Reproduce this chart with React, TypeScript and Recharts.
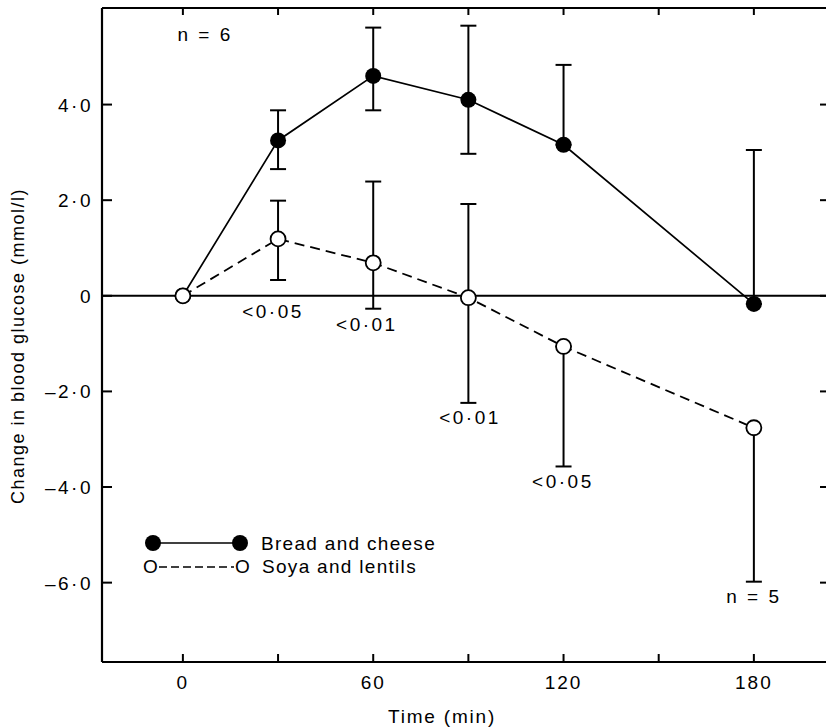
import React from "react";
import {
  ComposedChart,
  Line,
  Scatter,
  XAxis,
  YAxis,
  ErrorBar,
  ReferenceLine,
} from "recharts";

// Time after meal (min)
const times = [0, 30, 60, 90, 120, 180];

// Bread and cheese (filled circles)
const bread = [0, 3.25, 4.6, 4.1, 3.16, -0.17];
const breadErrDown = [0, 0.6, 0.72, 1.13, 0, 0];
const breadErrUp = [0, 0.63, 1.01, 1.55, 1.67, 3.22];

// Soya and lentils (open circles)
const soya = [0, 1.19, 0.69, -0.04, -1.06, -2.76];
const soyaErrDown = [0, 0.86, 0.96, 2.2, 2.51, 3.22];
const soyaErrUp = [0, 0.8, 1.7, 1.96, 0, 0];

// Axis ticks
const xTicks = [0, 30, 60, 90, 120, 150, 180];
const xLabelled = [0, 60, 120, 180];
const yTicks = [-6, -4, -2, 0, 2, 4];

// Text annotations (time, value, text)
const noteT = [28.4, 58, 90.5, 119.8, 180, 7];
const noteY = [-0.33, -0.61, -2.55, -3.89, -6.3, 5.46];
const noteText = ["<0·05", "<0·01", "<0·01", "<0·05", "n = 5", "n = 6"];

const FONT = "'Liberation Sans', Arial, Helvetica, sans-serif";
const X_DOMAIN: [number, number] = [-25.5, 204];
const Y_DOMAIN: [number, number] = [-7.66, 6.02];

const data = times.map((t, i) => ({
  t,
  bread: bread[i],
  breadErr: [breadErrDown[i], breadErrUp[i]],
  soya: soya[i],
  soyaErr: [soyaErrDown[i], soyaErrUp[i]],
}));

const notes = noteT.map((t, i) => ({ t, y: noteY[i], text: noteText[i] }));

const fmtY = (v: number) => {
  if (v === 0) return "0";
  const s = Math.abs(v).toFixed(1).replace(".", "·");
  return v < 0 ? "–" + s : s;
};

const BottomTick = ({ x, y, payload }: any) => (
  <g>
    <line x1={x} y1={y} x2={x} y2={y - 8} stroke="#000" strokeWidth={2} />
    {xLabelled.includes(payload.value) && (
      <text x={x} y={y + 27} textAnchor="middle" fontSize={19} letterSpacing={2} fill="#000" fontFamily={FONT}>
        {payload.value}
      </text>
    )}
  </g>
);

const TopTick = ({ x, y }: any) => (
  <line x1={x} y1={y} x2={x} y2={y + 7} stroke="#000" strokeWidth={2} />
);

const LeftTick = ({ x, y, payload }: any) => (
  <g>
    <line x1={x} y1={y} x2={x + 10} y2={y} stroke="#000" strokeWidth={2} />
    <text x={x - 9} y={y + 7} textAnchor="end" fontSize={19} letterSpacing={2.5} fill="#000" fontFamily={FONT}>
      {fmtY(payload.value)}
    </text>
  </g>
);

const RightTick = ({ x, y }: any) => (
  <line x1={x} y1={y} x2={x - 10} y2={y} stroke="#000" strokeWidth={2} />
);

const YLabel = ({ viewBox }: any) => {
  const cx = viewBox.x + 18;
  const cy = viewBox.y + viewBox.height / 2 + 11;
  return (
    <text x={cx} y={cy} transform={`rotate(-90 ${cx} ${cy})`} textAnchor="middle" dominantBaseline="central"
      fontSize={18} letterSpacing={1.5} fill="#000" fontFamily={FONT}>
      Change in blood glucose (mmol/l)
    </text>
  );
};

const XLabel = ({ viewBox }: any) => (
  <text x={viewBox.x + 340} y={viewBox.y + 61} textAnchor="middle" fontSize={19} letterSpacing={1.8}
    fill="#000" fontFamily={FONT}>
    Time (min)
  </text>
);

const NoteShape = ({ cx, cy, payload }: any) => (
  <text x={cx} y={cy} textAnchor="middle" dominantBaseline="central" fontSize={19} letterSpacing={2.5}
    fill="#000" fontFamily={FONT}>
    {payload.text}
  </text>
);

export default function App() {
  return (
    <div style={{ position: "absolute", left: 0, top: 0, width: 826, height: 727, overflow: "hidden", background: "#fff" }}>
      <ComposedChart width={840} height={727} data={data} margin={{ top: 0, right: 0, bottom: 0, left: 0 }}>
        <XAxis xAxisId="top" orientation="top" type="number" dataKey="t" domain={X_DOMAIN} ticks={xTicks}
          height={8} tickSize={0} tickMargin={0} tickLine={false} tick={<TopTick />}
          axisLine={{ stroke: "#000", strokeWidth: 2.2 }} allowDataOverflow />
        <XAxis type="number" dataKey="t" domain={X_DOMAIN} ticks={xTicks} height={65} tickSize={0} tickMargin={0}
          tickLine={false} tick={<BottomTick />} axisLine={{ stroke: "#000", strokeWidth: 2.2 }}
          label={<XLabel />} allowDataOverflow />
        <YAxis type="number" domain={Y_DOMAIN} ticks={yTicks} width={102} tickSize={0} tickMargin={0}
          tickLine={false} tick={<LeftTick />} axisLine={{ stroke: "#000", strokeWidth: 2.2 }}
          label={<YLabel />} allowDataOverflow />
        <YAxis yAxisId="right" orientation="right" type="number" domain={Y_DOMAIN} ticks={yTicks} width={10}
          tickSize={0} tickMargin={0} tickLine={false} tick={<RightTick />}
          axisLine={{ stroke: "#000", strokeWidth: 2 }} allowDataOverflow />

        <ReferenceLine y={0} stroke="#000" strokeWidth={2} />

        <Line dataKey="bread" stroke="#000" strokeWidth={1.7} isAnimationActive={false}
          dot={{ r: 8, fill: "#000", stroke: "#000", strokeWidth: 0 }} activeDot={false}>
          <ErrorBar dataKey="breadErr" direction="y" width={8} stroke="#000" strokeWidth={2} isAnimationActive={false} />
        </Line>
        <Line dataKey="soya" stroke="#000" strokeWidth={1.8} strokeDasharray="10 6" isAnimationActive={false}
          dot={{ r: 7.5, fill: "#fff", stroke: "#000", strokeWidth: 1.8, strokeDasharray: "0" }} activeDot={false}>
          <ErrorBar dataKey="soyaErr" direction="y" width={8} stroke="#000" strokeWidth={2} isAnimationActive={false} />
        </Line>

        <Scatter data={notes} dataKey="y" isAnimationActive={false} shape={<NoteShape />} />
      </ComposedChart>

      {/* legend */}
      <svg width={826} height={727} style={{ position: "absolute", left: 0, top: 0, pointerEvents: "none" }}>
        <g fontFamily={FONT} fontSize={19} fill="#000">
          <line x1={153} y1={543} x2={240} y2={543} stroke="#000" strokeWidth={1.6} />
          <circle cx={153} cy={543} r={8} fill="#000" />
          <circle cx={240} cy={543} r={8} fill="#000" />
          <text x={261} y={550} letterSpacing={1.3}>Bread and cheese</text>
          <text x={143} y={573}>O</text>
          <line x1={159} y1={567} x2={234} y2={567} stroke="#000" strokeWidth={1.4} strokeDasharray="8 4" />
          <text x={235} y={573}>O</text>
          <text x={262} y={573} letterSpacing={1.3}>Soya and lentils</text>
        </g>
      </svg>
    </div>
  );
}
